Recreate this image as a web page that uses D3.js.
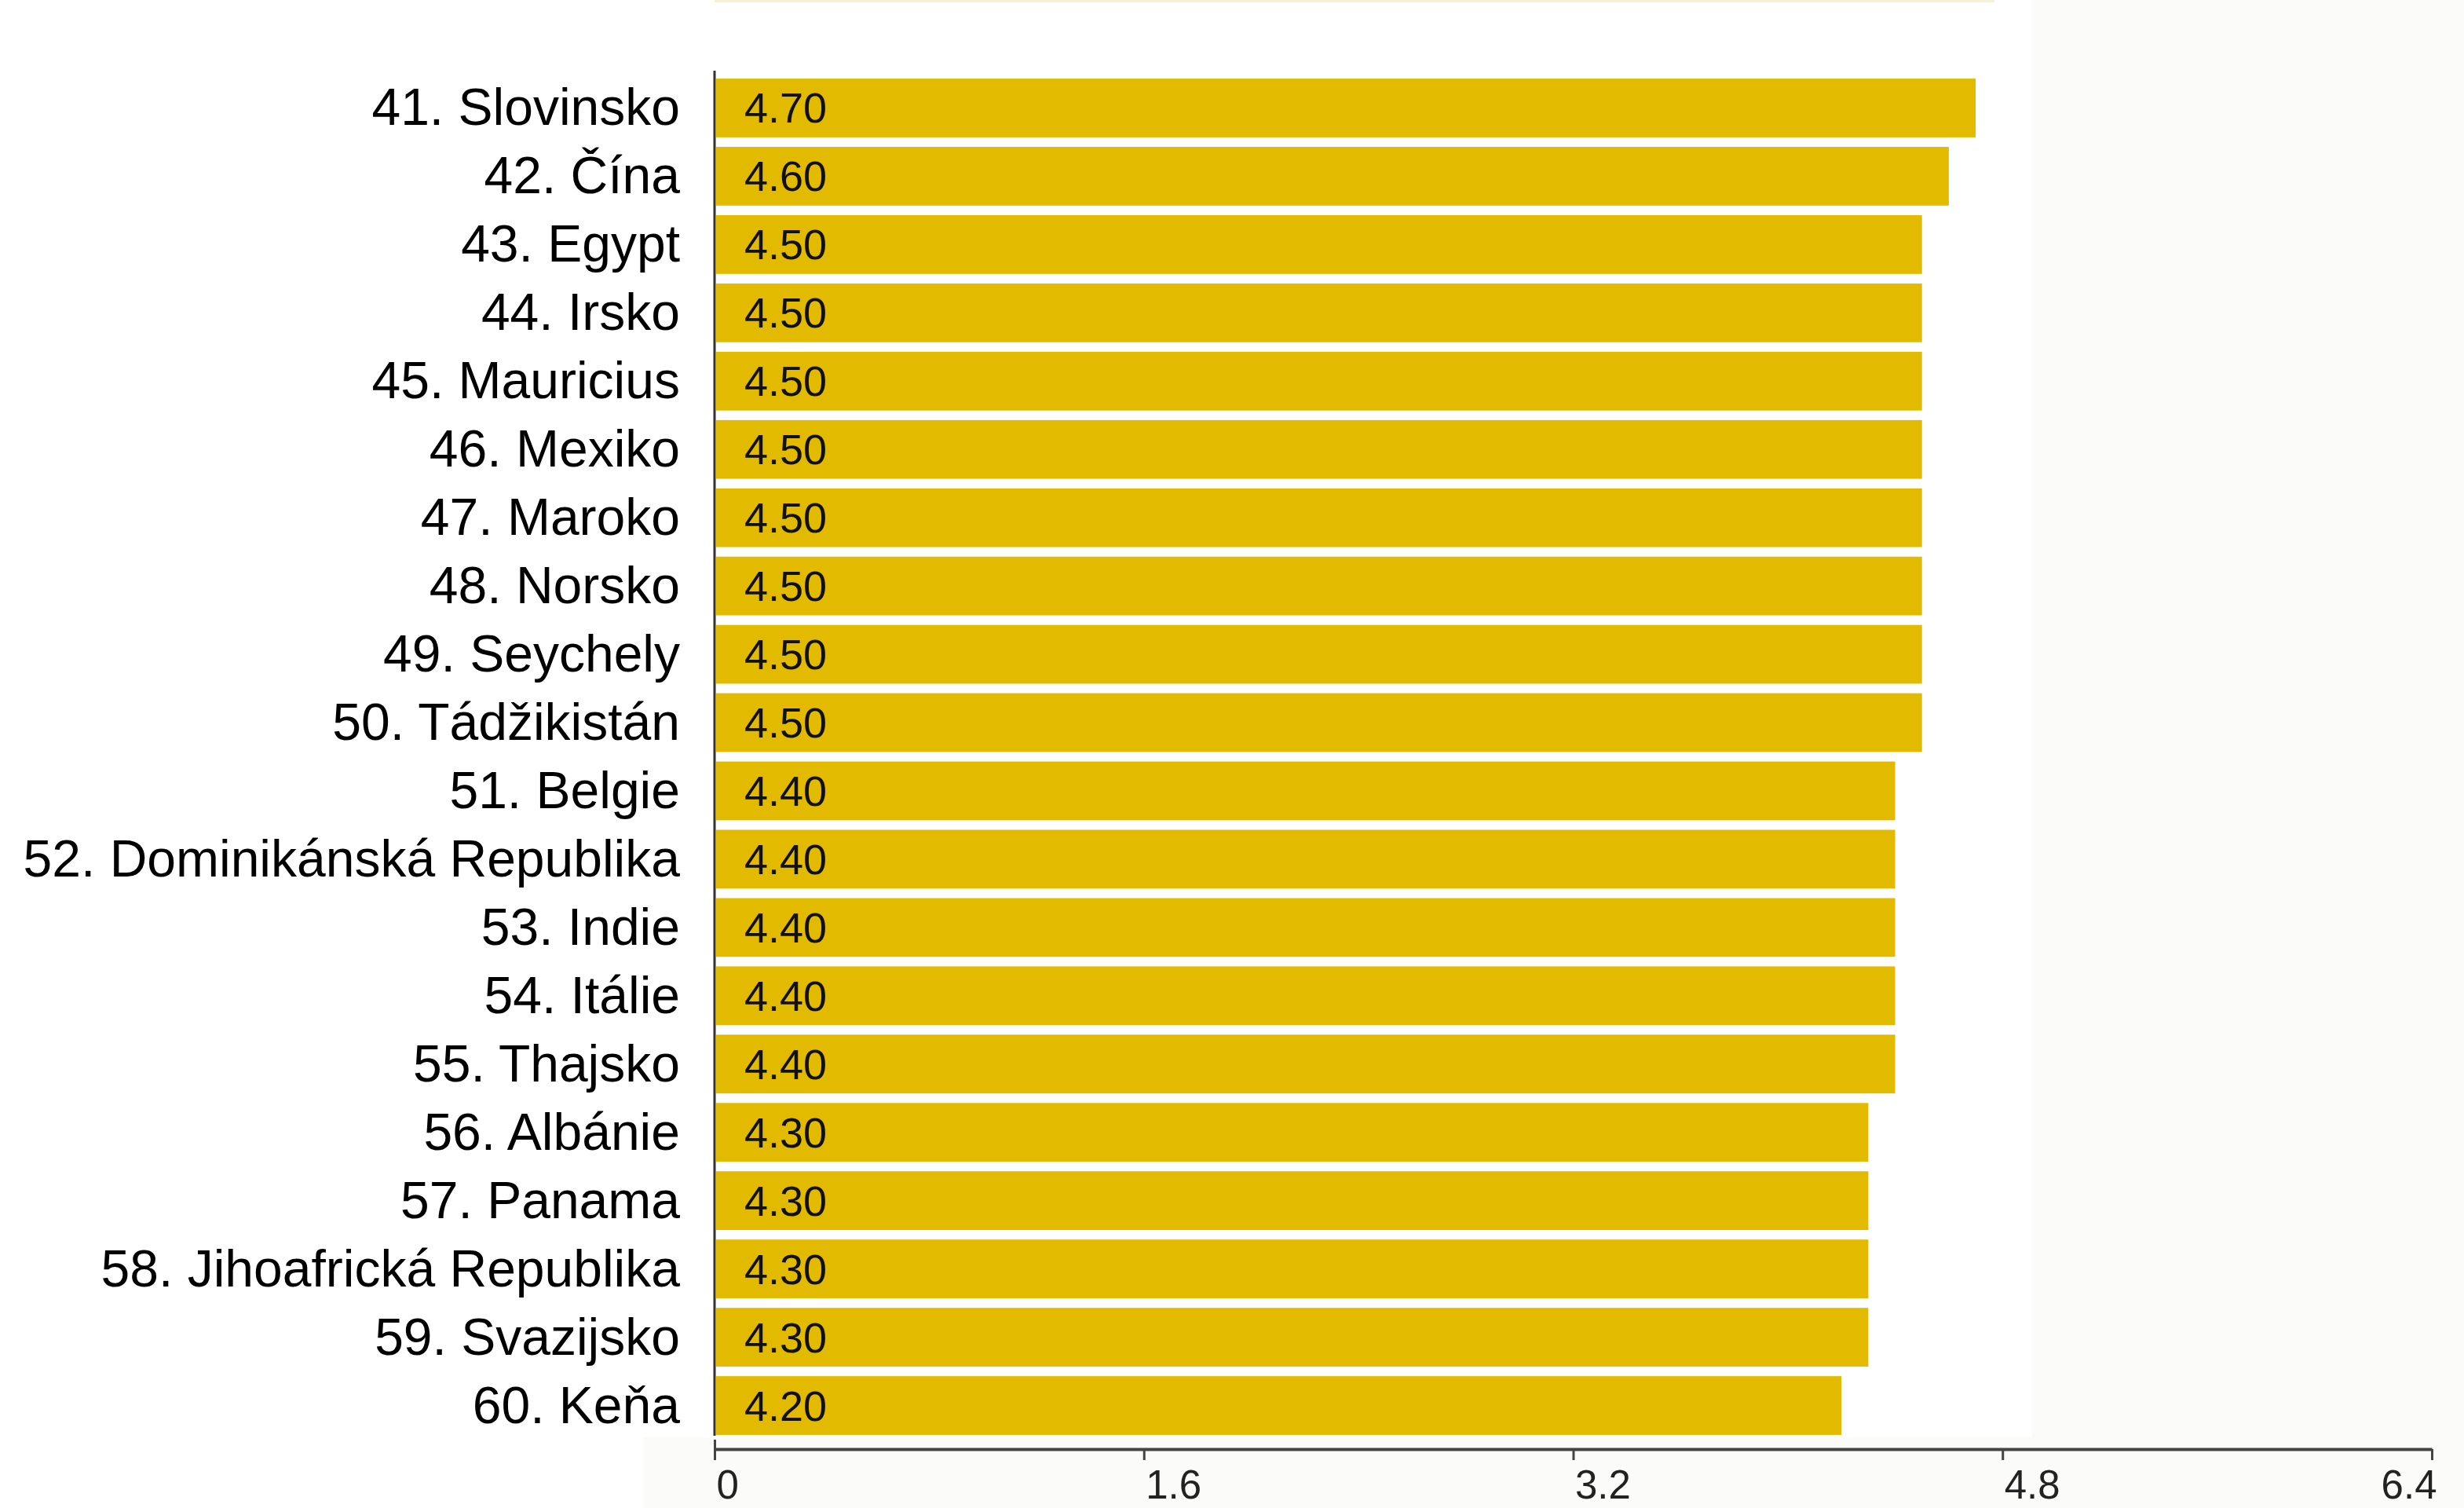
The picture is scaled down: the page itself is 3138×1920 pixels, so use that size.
<!DOCTYPE html>
<html>
<head>
<meta charset="utf-8">
<script src="https://cdn.jsdelivr.net/npm/d3@7"></script>
<style>
  html, body { margin: 0; padding: 0; background: #fbfcfa; }
  svg { display: block; font-family: "Liberation Sans", Arial, sans-serif; }
</style>
</head>
<body>
<script>
// chart data
const categories = [
  '41. Slovinsko', '42. Čína', '43. Egypt', '44. Irsko', '45. Mauricius',
  '46. Mexiko', '47. Maroko', '48. Norsko', '49. Seychely', '50. Tádžikistán',
  '51. Belgie', '52. Dominikánská Republika', '53. Indie', '54. Itálie', '55. Thajsko',
  '56. Albánie', '57. Panama', '58. Jihoafrická Republika', '59. Svazijsko', '60. Keňa'
];
const values = [4.7, 4.6, 4.5, 4.5, 4.5, 4.5, 4.5, 4.5, 4.5, 4.5,
                4.4, 4.4, 4.4, 4.4, 4.4, 4.3, 4.3, 4.3, 4.3, 4.2];
const xTicks = [0, 1.6, 3.2, 4.8, 6.4];

const width = 3138;
const height = 1920;

const data = categories.map((c, i) => ({ name: c, value: values[i] }));

const svg = d3.select('body').append('svg')
  .attr('width', width)
  .attr('height', height);

// white panels behind the chart
svg.append('rect')
  .attr('x', 0).attr('y', 0)
  .attr('width', 2588).attr('height', 1830)
  .attr('fill', '#ffffff');
svg.append('rect')
  .attr('x', 0).attr('y', 0)
  .attr('width', 820).attr('height', height)
  .attr('fill', '#ffffff');
svg.append('line')
  .attr('x1', 910).attr('x2', 2540)
  .attr('y1', 1.5).attr('y2', 1.5)
  .attr('stroke', '#f6efd9')
  .attr('stroke-width', 3);

const x = d3.scaleLinear()
  .domain([0, 6.4])
  .range([910, 3097]);

const y = d3.scaleBand()
  .domain(categories)
  .range([94, 1833])
  .paddingInner(0.14)
  .paddingOuter(0.07);

// bars
svg.append('g')
  .selectAll('rect')
  .data(data)
  .enter().append('rect')
  .attr('x', x(0) + 2)
  .attr('y', d => y(d.name))
  .attr('width', d => x(d.value) - x(0) - 2)
  .attr('height', y.bandwidth())
  .attr('fill', '#e2bb00');

// value labels inside bars
svg.append('g')
  .selectAll('text')
  .data(data)
  .enter().append('text')
  .attr('x', 948)
  .attr('y', d => y(d.name) + y.bandwidth() / 2 + 19)
  .attr('font-size', 54)
  .attr('fill', '#111')
  .text(d => d3.format('.2f')(d.value));

// category labels
svg.append('g')
  .selectAll('text')
  .data(data)
  .enter().append('text')
  .attr('x', 866)
  .attr('y', d => y(d.name) + y.bandwidth() / 2 + 22)
  .attr('text-anchor', 'end')
  .attr('font-size', 66)
  .attr('fill', '#000')
  .text(d => d.name);

// vertical axis line
svg.append('line')
  .attr('x1', 910).attr('x2', 910)
  .attr('y1', 90).attr('y2', 1828)
  .attr('stroke', '#333')
  .attr('stroke-width', 3);

// bottom axis
const xAxis = d3.axisBottom(x)
  .tickValues(xTicks)
  .tickSize(14)
  .tickSizeOuter(0)
  .tickFormat(d => d === 0 ? '0' : d3.format('.1f')(d));

const gx = svg.append('g')
  .attr('transform', 'translate(0,1845)')
  .call(xAxis);

gx.select('.domain')
  .attr('stroke', '#444')
  .attr('stroke-width', 4);
gx.selectAll('.tick line')
  .attr('stroke', '#444')
  .attr('stroke-width', 3);
gx.selectAll('.tick')
  .filter(d => d === 0)
  .select('line')
  .attr('y1', -12);
gx.selectAll('.tick text')
  .attr('font-family', '"Liberation Sans", Arial, sans-serif')
  .attr('font-size', 51)
  .attr('fill', '#222')
  .attr('y', 27)
  .attr('dy', '0.71em')
  .attr('text-anchor', (d, i) => i === xTicks.length - 1 ? 'end' : 'start')
  .attr('dx', (d, i) => i === xTicks.length - 1 ? 6 : 2);
</script>
</body>
</html>
